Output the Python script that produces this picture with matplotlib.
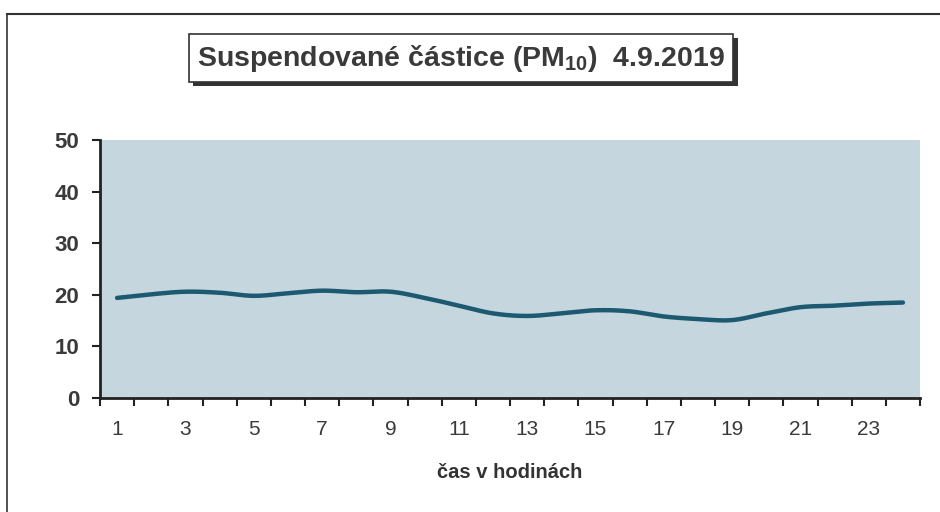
import numpy as np
import matplotlib
matplotlib.use("Agg")
import matplotlib.pyplot as plt
from matplotlib import patheffects
from matplotlib.lines import Line2D

plt.rcParams['font.family'] = ['Liberation Sans', 'DejaVu Sans']
plt.rcParams['mathtext.default'] = 'regular'

# Data
hours = list(range(1, 25))
pm10 = [19.4, 20.1, 20.6, 20.4, 19.8, 20.3, 20.8, 20.5, 20.6, 19.4, 17.9, 16.4,
        15.9, 16.4, 17.0, 16.8, 15.8, 15.3, 15.1, 16.4, 17.6, 17.9, 18.3, 18.5]
x_tick_labels = [str(h) for h in range(1, 24, 2)]
y_ticks = [0, 10, 20, 30, 40, 50]
title = r'Suspendované částice (PM$_{10}$)  4.9.2019'
xlabel = 'čas v hodinách'


def catmull_rom(x, y, n=20):
    x = np.asarray(x, float)
    y = np.asarray(y, float)
    px = np.concatenate([[2 * x[0] - x[1]], x, [2 * x[-1] - x[-2]]])
    py = np.concatenate([[2 * y[0] - y[1]], y, [2 * y[-1] - y[-2]]])
    xs, ys = [], []
    t = np.linspace(0, 1, n, endpoint=False)
    for i in range(1, len(px) - 2):
        p0, p1, p2, p3 = py[i - 1], py[i], py[i + 1], py[i + 2]
        q0, q1, q2, q3 = px[i - 1], px[i], px[i + 1], px[i + 2]
        f = lambda a0, a1, a2, a3: 0.5 * ((2 * a1) + (-a0 + a2) * t +
                                          (2 * a0 - 5 * a1 + 4 * a2 - a3) * t ** 2 +
                                          (-a0 + 3 * a1 - 3 * a2 + a3) * t ** 3)
        xs.append(f(q0, q1, q2, q3))
        ys.append(f(p0, p1, p2, p3))
    xs.append([x[-1]])
    ys.append([y[-1]])
    return np.concatenate(xs), np.concatenate(ys)


fig = plt.figure(figsize=(9.4, 5.12), dpi=100)
fig.patch.set_facecolor('white')
ax = fig.add_axes([100 / 940, 1 - 398 / 512, 820 / 940, 258 / 512])
ax.set_facecolor('#c6d6df')

sx, sy = catmull_rom(hours, pm10)
ax.plot(sx, sy, color='#1d5a72', lw=3.2, solid_capstyle='round')

ax.set_xlim(0.5, 24.5)
ax.set_ylim(0, 50)
ax.set_yticks(y_ticks)
ax.set_yticklabels([str(v) for v in y_ticks])
ax.set_xticks(np.arange(0.5, 25, 1))
ax.set_xticklabels([])
ax.set_xticks(list(range(1, 24, 2)), x_tick_labels, minor=True)

ax.tick_params(axis='x', which='major', direction='out', length=6, width=1.5, color='#222')
ax.tick_params(axis='x', which='minor', length=0, pad=16, labelsize=15, labelcolor='#3a3a3a')
ax.tick_params(axis='y', direction='out', length=6, width=1.5, color='#222',
               labelsize=16, labelcolor='#3a3a3a', pad=9)
for lab in ax.get_yticklabels():
    lab.set_fontweight('bold')

for s in ['top', 'right']:
    ax.spines[s].set_visible(False)
for s in ['left', 'bottom']:
    ax.spines[s].set_linewidth(2)
    ax.spines[s].set_color('#222')

ax.set_xlabel(xlabel, fontsize=14.5, fontweight='bold', color='#333', labelpad=17)

t = fig.text(461 / 940, 1 - 58 / 512, title, ha='center', va='center',
             fontsize=20.5, fontweight='bold', color='#3a3a3a',
             bbox=dict(boxstyle='square,pad=0.3', fc='white', ec='#333', lw=1.2))
t.get_bbox_patch().set_path_effects([
    patheffects.SimplePatchShadow(offset=(3, -3), shadow_rgbFace='#333', alpha=1.0),
    patheffects.Normal()])

# outer frame
fig.add_artist(Line2D([7 / 940, 7 / 940], [0, 1 - 14 / 512], transform=fig.transFigure,
                      color='#333', lw=1.2))
fig.add_artist(Line2D([7 / 940, 1], [1 - 14 / 512, 1 - 14 / 512], transform=fig.transFigure,
                      color='#333', lw=1.5))

fig.savefig('out.png', dpi=100, facecolor='white')
